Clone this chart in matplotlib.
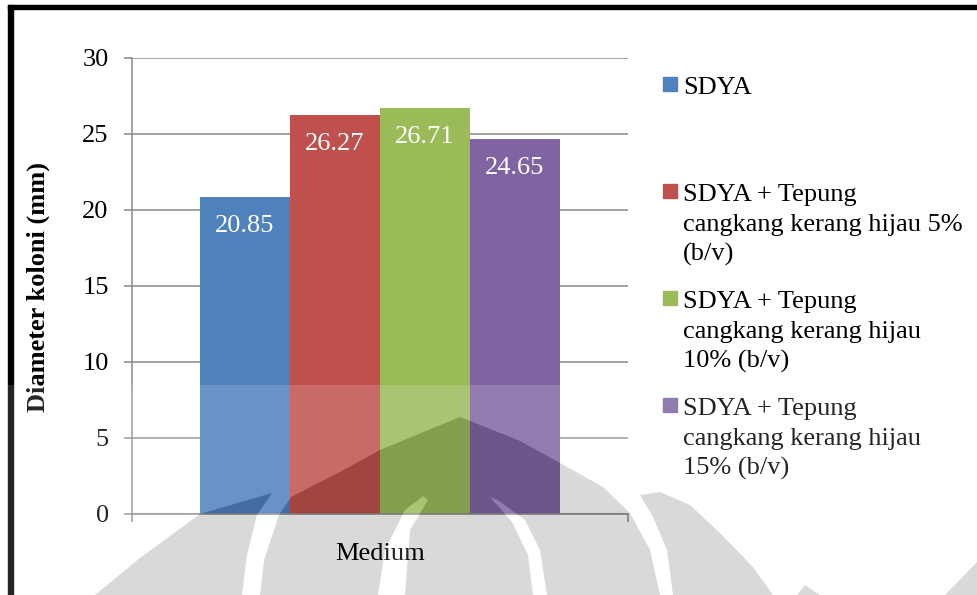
import numpy as np
import matplotlib.pyplot as plt
from matplotlib.patches import Rectangle, PathPatch
from matplotlib.path import Path
from matplotlib.transforms import Affine2D

# data
categories = ['Medium']
series = [
    'SDYA',
    'SDYA + Tepung\ncangkang kerang hijau 5%\n(b/v)',
    'SDYA + Tepung\ncangkang kerang hijau\n10% (b/v)',
    'SDYA + Tepung\ncangkang kerang hijau\n15% (b/v)',
]
values = [20.85, 26.27, 26.71, 24.65]
colors = ['#4F81BD', '#C0504D', '#9BBB59', '#8064A2']
yticks = [0, 5, 10, 15, 20, 25, 30]

plt.rcParams['font.family'] = ['Liberation Serif', 'DejaVu Serif']
FS = 19
GRID = '#898989'

W, H = 977, 595
fig = plt.figure(figsize=(W / 100, H / 100), dpi=100)
# pixel coordinates, origin top-left
px = Affine2D().scale(1 / W, -1 / H).translate(0, 1) + fig.transFigure

ax = fig.add_axes([132 / W, 1 - 514 / H, 496 / W, 456 / H])

n = len(values)
bw = 90 / 496
for i, (v, c) in enumerate(zip(values, colors)):
    x = (i - (n - 1) / 2) * bw
    ax.bar(x, v, width=bw, color=c, zorder=2)
    ax.annotate(f'{v:.2f}', (x, v), xytext=(0, -29), textcoords='offset pixels',
                ha='center', va='center', color='white', fontsize=FS, zorder=3)

ax.set_xlim(-0.5, 0.5)
ax.set_ylim(0, 30)
ax.set_yticks(yticks)
ax.set_xticks([0], categories)
ax.set_xticks([-0.5, 0.5], minor=True)
ax.yaxis.grid(True, color=GRID, lw=1.1, zorder=0)
ax.set_axisbelow(True)
for s in ['top', 'right']:
    ax.spines[s].set_visible(False)
for s in ['left', 'bottom']:
    ax.spines[s].set_color(GRID)
    ax.spines[s].set_linewidth(1.1)
ax.tick_params(axis='y', length=5.8, width=1.1, color=GRID, pad=11, labelsize=FS)
ax.tick_params(axis='x', which='major', length=0, pad=21, labelsize=FS)
ax.tick_params(axis='x', which='minor', length=5.8, width=1.1, color=GRID)

fig.text(38, 287, 'Diameter koloni (mm)', transform=px, rotation=90,
         ha='center', va='center', fontsize=FS, fontweight='bold')

# legend, drawn entry by entry
for i, (lab, c) in enumerate(zip(series, colors)):
    base = 94 + 107 * i
    fig.add_artist(Rectangle((663, base - 17), 14, 14, color=c, transform=px))
    for j, line in enumerate(lab.split('\n')):
        fig.text(683, base + 30 * j, line, transform=px, ha='left',
                 va='baseline', fontsize=FS)

# frame lines on the left and top
fig.add_artist(Rectangle((8, 5), 5, 600, color='black', transform=px, zorder=5))
fig.add_artist(Rectangle((8, 5), 980, 4, color='black', transform=px, zorder=5))

# faded watermark over the lower part
logo = [
    [(95, 595), (140, 558), (200, 514), (272, 493), (257, 515), (247, 555), (242, 595)],
    [(260, 595), (264, 560), (279, 515), (291, 497), (340, 472), (380, 450),
     (460, 417), (520, 441), (560, 463), (603, 487), (630, 513), (650, 550),
     (660, 595), (547, 595), (540, 550), (525, 520), (498, 500), (490, 497),
     (512, 522), (528, 555), (533, 595), (405, 595), (410, 530), (428, 500),
     (423, 496), (405, 510), (385, 550), (378, 595)],
    [(640, 495), (660, 492), (690, 505), (720, 533), (753, 567), (773, 595),
     (673, 595), (667, 550), (653, 517)],
    [(797, 595), (805, 585), (820, 595)],
    [(945, 595), (977, 562), (977, 595)],
]


def ring(pts, ccw):
    p = np.array(pts, float)
    area = np.sum(p[:, 0] * np.roll(p[:, 1], -1) - np.roll(p[:, 0], -1) * p[:, 1])
    if (area > 0) != ccw:
        p = p[::-1]
    return Path(np.vstack([p, p[:1]]), closed=True)


rect = [(0, 385), (W + 5, 385), (W + 5, H + 5), (0, H + 5)]
haze = Path.make_compound_path(ring(rect, True), *[ring(p, False) for p in logo])
mark = Path.make_compound_path(*[ring(p, True) for p in logo])
fig.add_artist(PathPatch(haze, transform=px, fc='white', ec='none', alpha=0.15, zorder=10))
fig.add_artist(PathPatch(mark, transform=px, fc='black', ec='none', alpha=0.15, zorder=10))

fig.savefig('out.png', dpi=100)
